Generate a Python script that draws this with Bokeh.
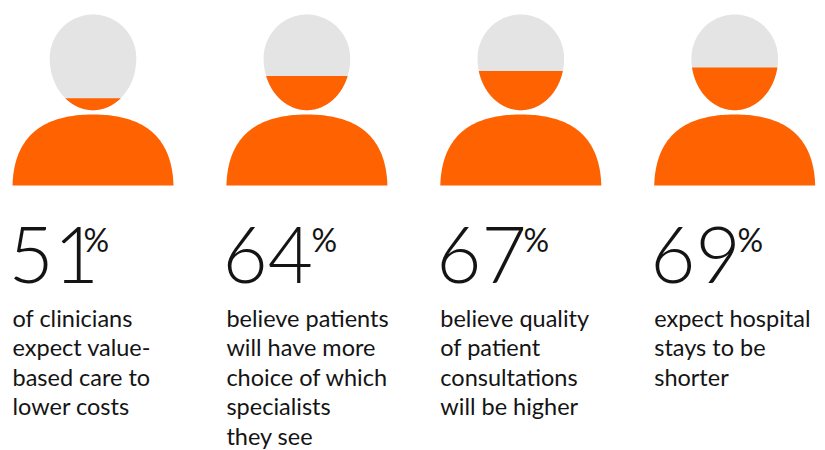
import numpy as np
from bokeh.plotting import figure
from bokeh.models import Range1d
from bokeh.core.properties import value
from bokeh.embed import file_html
from bokeh.resources import INLINE

percent_values = [51, 64, 67, 69]
descriptions = [
    ["of clinicians", "expect value-", "based care to", "lower costs"],
    ["believe patients", "will have more", "choice of which", "specialists", "they see"],
    ["believe quality", "of patient", "consultations", "will be higher"],
    ["expect hospital", "stays to be", "shorter"],
]

ORANGE = "#FF6200"
GREY = "#E4E4E4"
TEXT = "#141414"
BODY_FONT = "Lato"
NUM_FONT = "Lato Light"
PCT_LEFT = [83, 311, 523, 737]

FIRST, STEP = 92.5, 213.9
TOP, BASE = 14.0, 185.0
HEAD_CY, HEAD_A, HEAD_UP, HEAD_DOWN = 58.0, 43.3, 44.0, 51.7
BASELINE_SHIFT = 0.38  # this renderer draws "alphabetic" text lower by this part of the size

p = figure(width=825, height=450, output_backend="svg", toolbar_location=None,
           x_range=Range1d(0, 825), y_range=Range1d(450, 0),
           min_border=0, outline_line_color=None, background_fill_color="white")
p.axis.visible = False
p.grid.visible = False

def cubic(p0, c1, c2, p1, n=60):
    t = np.linspace(0, 1, n)[:, None]
    p0, c1, c2, p1 = map(np.array, (p0, c1, c2, p1))
    return (1-t)**3*p0 + 3*(1-t)**2*t*c1 + 3*(1-t)*t**2*c2 + t**3*p1

def label(x, y, texts, font, size):
    ys = [yy - BASELINE_SHIFT * size for yy in y]
    p.text(x, ys, text=texts, text_font=value(font), text_font_size=f"{size}px",
           text_color=TEXT, text_baseline="alphabetic", text_align="left")

for i, (v, lines) in enumerate(zip(percent_values, descriptions)):
    cx = FIRST + STEP * i
    level = BASE - v / 100 * (BASE - TOP)

    th = np.linspace(0, 2*np.pi, 361)
    hx = HEAD_A * np.cos(th)
    hy = np.where(np.sin(th) > 0, HEAD_DOWN, HEAD_UP) * np.sin(th)
    p.patch(cx + hx, HEAD_CY + hy, fill_color=GREY, line_color=None)

    s0 = (level - HEAD_CY) / HEAD_DOWN
    a0 = np.arcsin(s0)
    ta = np.linspace(a0, np.pi - a0, 200)
    p.patch(cx + HEAD_A*np.cos(ta), HEAD_CY + HEAD_DOWN*np.sin(ta),
            fill_color=ORANGE, line_color=None)

    left = cubic((-80.5, BASE), (-79, 133), (-47, 114), (0, 114))
    xs = np.r_[left[:, 0], -left[::-1, 0]]
    ys = np.r_[left[:, 1], left[::-1, 1]]
    p.patch(cx + xs, ys, fill_color=ORANGE, line_color=None)

    label([cx - 84.5], [284], [str(v)], NUM_FONT, 78)
    label([PCT_LEFT[i]], [251], ["%"], BODY_FONT, 32)
    tx = cx - 80.5
    label([tx]*len(lines), [326 + 29.5*k for k in range(len(lines))], lines, BODY_FONT, 23.5)

open("out.html", "w").write(file_html(p, INLINE))
